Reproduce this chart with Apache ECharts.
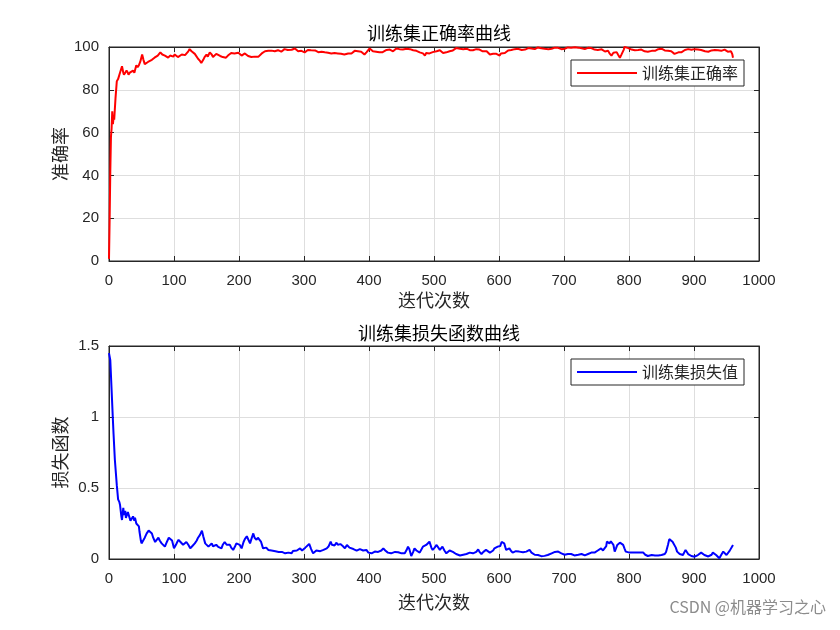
<!DOCTYPE html>
<html>
<head>
<meta charset="utf-8">
<script src="https://cdn.jsdelivr.net/npm/echarts@6/dist/echarts.min.js"></script>
<style>html,body{margin:0;padding:0;background:#fff}#c{width:840px;height:630px}</style>
</head>
<body>
<div id="c"></div>
<script>
// ---- data ----
var xTicks = [0,100,200,300,400,500,600,700,800,900,1000];
var accIter = [0,1,2,3,4,5,6,7,8,9,10,12,14,16,18,20,22,23,25,27,29,30,32,34,37,39,42,44,46,48,51,53,55,58,60,63,66,68,70,73,75,77,79,82,84,86,89,91,94,96,99,101,104,106,109,112,114,117,119,122,124,127,129,132,134,137,140,142,145,147,150,152,155,158,160,163,165,168,171,173,175,178,180,183,186,188,191,193,196,199,201,204,207,209,211,214,216,219,222,224,227,230,232,235,237,240,243,245,247,250,252,255,258,260,263,265,268,270,273,275,278,281,283,286,288,291,293,296,298,301,304,306,309,311,314,317,319,322,325,327,330,332,335,337,340,342,345,347,350,352,355,357,360,362,365,368,370,373,375,378,380,383,386,388,391,393,396,398,401,404,406,409,411,414,416,419,421,424,427,429,432,434,437,440,442,445,447,450,452,455,458,460,463,465,468,470,473,475,478,481,483,486,488,491,493,496,498,501,504,506,509,512,514,516,519,521,524,527,529,532,534,537,540,542,545,548,550,553,555,558,560,563,565,568,570,573,575,578,581,583,586,588,591,593,596,598,601,603,606,609,611,614,617,619,622,624,627,629,632,635,637,640,642,645,647,650,652,655,658,660,663,665,668,670,673,676,678,681,683,686,688,691,693,696,698,701,704,706,709,711,714,717,719,722,724,727,729,732,734,737,740,742,745,747,750,752,755,758,760,763,765,768,770,773,776,778,781,783,786,788,790,792,793,796,798,801,804,806,809,811,814,817,819,822,824,827,829,832,835,837,840,842,845,847,850,852,855,858,860,863,865,868,870,873,876,878,881,883,886,888,891,893,896,898,901,904,906,909,911,914,917,919,922,924,927,929,932,934,937,940,942,945,947,950,952,955,957,959,960];
var accVal = [1,20,42,58,62,70,64,67,66,71,76,84,85,87,89,91,88,87,88,89,88,87,88,88.5,89,88,91.5,90.5,91.5,93,96.5,94,92,92.5,93,93.3,94,93.5,95,94.5,96,96.5,97.5,96.5,97,96,95.5,95,96,96,95.5,96.5,96,95.3,96,96.5,97.2,96.2,96.5,98,99,98,97.2,96.8,96,94.5,93.5,92.5,94,95.3,96.5,95.5,97.5,96.5,95.3,96,96.8,96.5,95.8,96.5,95.3,95.8,95,96,96.8,97.2,96.5,97,96.5,97.3,96.5,96,96.8,97,96.5,95.8,96.2,95.3,96,95.5,94.6,95.5,96,97,97.5,98,97.3,98.2,97.6,98.3,97.5,98,97.8,98.5,98.5,97.8,98.5,99,98.2,98.6,98,98.7,98.3,99.3,98.5,98,97.6,98.2,97.8,97.5,98.2,98.6,98,98.5,97.8,98.4,98,97.6,98.3,97.8,98.2,97.5,98,97.3,97.8,97,97.6,97.2,98,97,97.5,96.8,97.3,96.5,97.4,97,97.8,97,97.6,98.2,97.5,98,97.4,97.8,97,96.5,97.5,98.4,99.3,98.6,98,98.5,97.8,98.3,97.5,98.2,97.6,98,98.6,98.2,98.8,98.5,98,98.8,99.3,98.5,99,98.3,98.8,98.5,99.2,98.6,99,99.3,98.5,98.8,98.2,98,97.5,97.8,97,96,97.2,96.5,97,97.8,97.6,98.2,98,98.8,98.5,97.8,97.2,96.5,97.5,98.2,98,98.8,98.4,99.2,99.5,98.8,99.2,98.6,99,98.5,99.2,98.6,98.5,99,98.5,99.2,99,98.4,98.8,98.2,98,97.5,98,97.3,96.5,97.2,96.8,97.5,96.8,97.2,96,97,97.8,97.2,97.6,98.4,97.8,98.6,98.5,99,98.4,99.2,99,98.6,99.2,98.8,99,99.5,98.8,99.3,99.5,99,99.6,99.8,100,99.4,99.8,99.2,99.5,99,99.6,99.2,99.3,99.7,99.1,99.6,99.5,99,99.6,99.2,99.3,99.8,99.2,99.6,99.5,99.9,99.3,99.7,100,99.4,99.8,99.1,99,99.6,99.1,99.5,99.3,98.8,99.2,98.6,98.5,98.9,98.2,97.9,97.6,98.2,97,96,97.3,98,97.6,96.5,95,96.2,97,98.8,100,99.4,99.6,99.3,98.8,99.2,98.5,98,98.6,98.2,98.8,98.5,98,98.6,97.8,97.6,98.2,98.7,98.2,98.5,99,98.6,99.2,99,98.4,98.8,98.2,97.6,98,97.3,96.8,96.5,97.5,98,97.6,98,98.6,98.3,99,99,98.7,99.3,99,99.5,98.8,99.2,98.6,98.5,98,98.4,97.8,97.6,98.4,98.8,98.6,99,98.5,98.8,98.2,98.5,98.8,98.2,97.8,97.6,98,96.5,95];
var lossIter = [0,2,4,6,7,9,11,12,14,16,17,19,20,22,23,25,26,27,29,31,33,35,37,39,40,42,44,46,47,49,50,52,55,58,61,63,66,68,71,73,76,78,81,84,86,89,92,95,97,100,103,105,107,110,112,114,117,119,122,125,128,130,132,135,137,140,143,145,148,150,153,155,158,160,163,165,168,170,173,175,178,181,183,186,188,191,194,196,199,201,204,207,209,212,214,217,219,222,224,227,229,232,234,237,240,242,245,248,250,253,256,258,261,263,266,268,271,273,276,278,281,283,286,289,291,294,297,299,302,305,308,311,314,317,319,322,325,327,330,333,335,338,341,343,345,347,350,352,354,356,358,360,363,366,368,370,373,376,378,381,383,386,388,391,394,396,399,401,404,406,409,412,414,417,419,422,425,427,429,432,434,437,440,442,445,447,450,453,455,458,460,462,465,468,470,473,475,478,481,483,486,488,491,493,496,498,501,504,506,509,511,513,516,519,522,524,527,529,532,534,537,540,542,545,548,550,553,555,557,560,562,565,568,570,573,576,578,580,583,586,588,591,593,596,598,600,602,604,606,608,611,613,616,618,621,624,626,629,631,634,637,640,642,645,647,650,652,655,658,660,663,665,668,670,673,675,678,681,683,686,688,691,693,696,699,701,704,706,709,711,714,716,719,722,724,727,729,732,734,737,740,742,745,747,750,752,755,757,760,763,765,766,768,770,772,774,776,778,780,782,784,786,789,791,793,795,798,801,804,806,809,811,814,817,819,822,825,827,829,832,835,837,840,842,845,847,850,852,855,857,858,860,862,863,865,867,869,870,872,874,876,878,881,883,885,887,889,891,894,896,899,901,904,906,909,911,914,916,919,922,924,927,929,932,934,937,939,942,945,947,950,952,955,957,960];
var lossVal = [1.45,1.40,1.19,0.98,0.88,0.70,0.58,0.52,0.42,0.40,0.38,0.30,0.275,0.36,0.31,0.34,0.29,0.30,0.33,0.32,0.27,0.26,0.30,0.27,0.29,0.25,0.26,0.23,0.19,0.13,0.11,0.12,0.15,0.18,0.20,0.19,0.18,0.15,0.12,0.13,0.15,0.13,0.11,0.10,0.087,0.12,0.15,0.16,0.13,0.075,0.10,0.12,0.135,0.12,0.11,0.10,0.11,0.12,0.10,0.075,0.09,0.10,0.11,0.13,0.15,0.17,0.20,0.16,0.11,0.10,0.087,0.10,0.11,0.09,0.10,0.10,0.085,0.09,0.075,0.10,0.12,0.10,0.11,0.10,0.08,0.064,0.09,0.11,0.12,0.10,0.075,0.12,0.14,0.16,0.17,0.11,0.14,0.18,0.15,0.135,0.15,0.16,0.12,0.075,0.07,0.08,0.064,0.07,0.06,0.068,0.055,0.065,0.05,0.06,0.05,0.045,0.04,0.03,0.045,0.05,0.04,0.057,0.05,0.06,0.055,0.075,0.06,0.052,0.08,0.09,0.106,0.07,0.04,0.05,0.06,0.059,0.055,0.062,0.064,0.07,0.075,0.09,0.122,0.10,0.087,0.095,0.115,0.10,0.092,0.105,0.115,0.09,0.075,0.099,0.09,0.08,0.075,0.07,0.065,0.059,0.06,0.07,0.075,0.06,0.052,0.064,0.045,0.035,0.04,0.048,0.052,0.045,0.05,0.052,0.06,0.075,0.06,0.05,0.045,0.05,0.04,0.045,0.05,0.04,0.048,0.045,0.04,0.045,0.04,0.065,0.087,0.07,0.021,0.05,0.075,0.06,0.052,0.045,0.07,0.087,0.08,0.099,0.11,0.122,0.08,0.064,0.08,0.099,0.085,0.064,0.075,0.087,0.06,0.04,0.05,0.06,0.068,0.05,0.04,0.035,0.03,0.025,0.021,0.03,0.035,0.035,0.04,0.045,0.045,0.04,0.035,0.05,0.068,0.05,0.035,0.05,0.06,0.064,0.05,0.045,0.045,0.06,0.075,0.08,0.087,0.09,0.092,0.12,0.134,0.11,0.064,0.07,0.075,0.06,0.045,0.05,0.055,0.05,0.052,0.05,0.048,0.045,0.052,0.06,0.064,0.045,0.035,0.03,0.035,0.028,0.025,0.02,0.016,0.022,0.025,0.028,0.035,0.04,0.045,0.05,0.045,0.052,0.045,0.04,0.035,0.03,0.028,0.035,0.03,0.035,0.03,0.025,0.021,0.03,0.035,0.035,0.03,0.025,0.028,0.035,0.04,0.045,0.05,0.045,0.052,0.06,0.07,0.075,0.06,0.052,0.09,0.122,0.115,0.11,0.125,0.13,0.10,0.052,0.075,0.099,0.11,0.115,0.105,0.099,0.075,0.052,0.048,0.045,0.05,0.045,0.048,0.045,0.04,0.045,0.05,0.045,0.03,0.025,0.021,0.025,0.028,0.028,0.025,0.022,0.025,0.021,0.028,0.03,0.035,0.05,0.064,0.10,0.14,0.146,0.13,0.122,0.115,0.11,0.08,0.052,0.04,0.035,0.03,0.028,0.04,0.064,0.05,0.035,0.025,0.021,0.02,0.016,0.022,0.028,0.035,0.045,0.035,0.028,0.022,0.018,0.016,0.03,0.045,0.035,0.028,0.015,0.005,0.03,0.052,0.04,0.028,0.04,0.059,0.07,0.099];
var accTicks = [0,20,40,60,80,100];
var lossTicks = [0,0.5,1,1.5];

function pairs(xs, ys){ var o=[]; for (var i=0;i<xs.length;i++) o.push([xs[i], ys[i]]); return o; }

var dark = '#262626';
var numFont = 'Liberation Sans';
var cjkFont = 'Noto Sans CJK SC';
function plain(v){ return String(v); }

function xAx(g, name, gap){
  return {
    gridIndex:g, type:'value', min:xTicks[0], max:xTicks[xTicks.length-1], interval:100, position:'bottom',
    axisLine:{show:true, onZero:false, lineStyle:{color:dark, width:1}},
    axisTick:{show:true, inside:true, length:5, lineStyle:{color:dark}},
    axisLabel:{color:dark, fontSize:15, fontFamily:numFont, margin:12, formatter:plain},
    splitLine:{show:true, lineStyle:{color:'#dedede', width:1}},
    name:name, nameLocation:'middle', nameGap:gap, nameMoveOverlap:false,
    nameTextStyle:{color:dark, fontSize:18, fontFamily:cjkFont}
  };
}
function xMirror(g){
  return {
    gridIndex:g, type:'value', min:xTicks[0], max:xTicks[xTicks.length-1], interval:100, position:'top',
    axisLine:{show:true, onZero:false, lineStyle:{color:dark, width:1}},
    axisTick:{show:true, inside:true, length:5, lineStyle:{color:dark}},
    axisLabel:{show:false}, splitLine:{show:false}
  };
}
function yAx(g, ticks, name){
  return {
    gridIndex:g, type:'value', min:ticks[0], max:ticks[ticks.length-1], interval:ticks[1]-ticks[0], position:'left',
    axisLine:{show:true, onZero:false, lineStyle:{color:dark, width:1}},
    axisTick:{show:true, inside:true, length:5, lineStyle:{color:dark}},
    axisLabel:{color:dark, fontSize:15, fontFamily:numFont, margin:10, formatter:plain},
    splitLine:{show:true, lineStyle:{color:'#dedede', width:1}},
    name:name, nameLocation:'middle', nameGap:40, nameMoveOverlap:false,
    nameTextStyle:{color:dark, fontSize:18, fontFamily:cjkFont}
  };
}
function yMirror(g, ticks){
  return {
    gridIndex:g, type:'value', min:ticks[0], max:ticks[ticks.length-1], interval:ticks[1]-ticks[0], position:'right',
    axisLine:{show:true, onZero:false, lineStyle:{color:dark, width:1}},
    axisTick:{show:true, inside:true, length:5, lineStyle:{color:dark}},
    axisLabel:{show:false}, splitLine:{show:false}
  };
}
function legendAt(name, top){
  return {data:[name], left:571, top:top, orient:'vertical', icon:'rect', itemWidth:60, itemHeight:2, itemGap:0,
    padding:[5,6,5,6], borderColor:dark, borderWidth:1, backgroundColor:'#fff', borderRadius:0,
    textStyle:{color:dark, fontSize:16, fontFamily:cjkFont}};
}

var chart = echarts.init(document.getElementById('c'), null, {renderer:'canvas'});
chart.setOption({
  animation:false,
  backgroundColor:'#ffffff',
  title:[
    {text:'训练集正确率曲线', left:434, top:19, textAlign:'center',
     textStyle:{color:'#000', fontSize:18, fontWeight:'normal', fontFamily:cjkFont}},
    {text:'训练集损失函数曲线', left:434, top:319, textAlign:'center',
     textStyle:{color:'#000', fontSize:18, fontWeight:'normal', fontFamily:cjkFont}}
  ],
  grid:[
    {left:109, top:47, width:650, height:214, show:true, borderColor:dark, borderWidth:1, backgroundColor:'#fff'},
    {left:109, top:346, width:650, height:213, show:true, borderColor:dark, borderWidth:1, backgroundColor:'#fff'}
  ],
  legend:[legendAt('训练集正确率', 60), legendAt('训练集损失值', 359)],
  xAxis:[xAx(0,'迭代次数',30), xMirror(0), xAx(1,'迭代次数',34), xMirror(1)],
  yAxis:[yAx(0, accTicks, '准确率'), yMirror(0, accTicks), yAx(1, lossTicks, '损失函数'), yMirror(1, lossTicks)],
  series:[
    {name:'训练集正确率', type:'line', xAxisIndex:0, yAxisIndex:0, data:pairs(accIter, accVal),
     symbol:'none', lineStyle:{color:'#ff0000', width:2}, itemStyle:{color:'#ff0000'}},
    {name:'训练集损失值', type:'line', xAxisIndex:2, yAxisIndex:2, data:pairs(lossIter, lossVal),
     symbol:'none', lineStyle:{color:'#0000ff', width:2}, itemStyle:{color:'#0000ff'}}
  ],
  graphic:[
    {type:'text', right:14, top:599, style:{text:'CSDN @机器学习之心', fill:'#8c8c8c', fontSize:16, fontFamily:cjkFont}}
  ]
});
</script>
</body>
</html>
